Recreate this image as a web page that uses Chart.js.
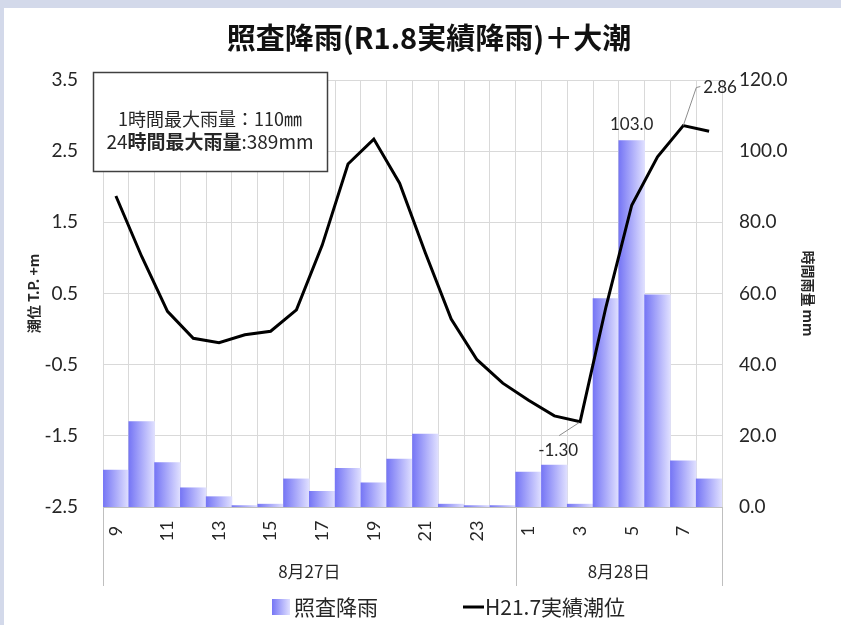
<!DOCTYPE html>
<html>
<head>
<meta charset="utf-8">
<script src="https://cdn.jsdelivr.net/npm/chart.js@4.4.1/dist/chart.umd.min.js"></script>
<style>
  html, body { margin: 0; padding: 0; background: #d3d9ea; }
  #wrap { position: absolute; left: 4px; top: 8px; width: 837px; height: 617px; background: #fff; }
</style>
</head>
<body>
<div id="wrap"><canvas id="myChart" width="837" height="617"></canvas></div>
<script>
// categories (hour of day), two days
let hours = ["9", "10", "11", "12", "13", "14", "15", "16", "17", "18", "19", "20", "21", "22", "23", "24",
    "1", "2", "3", "4", "5", "6", "7", "8"];
let dayLabels = ["8月27日", "8月28日"];
let daySizes = [16, 8]; // number of hours in each day group
// hourly rain mm (right axis)
let rain = [10.4, 24.0, 12.5, 5.4, 2.9, 0.4, 0.8, 7.9, 4.4, 10.9, 6.8, 13.5, 20.5, 0.8, 0.4, 0.4,
    9.8, 11.8, 0.8, 58.6, 103.0, 59.6, 13.0, 7.9];
// tide level T.P. m (left axis)
let tide = [1.87, 1.02, 0.25, -0.13, -0.19, -0.08, -0.03, 0.27, 1.18, 2.32, 2.67, 2.05, 1.07, 0.14, -0.43, -0.76,
    -1.0, -1.22, -1.30, 0.31, 1.74, 2.42, 2.86, 2.78];
let tideTicks = [-2.5, -1.5, -0.5, 0.5, 1.5, 2.5, 3.5];
let rainTicks = [0, 20, 40, 60, 80, 100, 120];

const JP = '"Noto Sans CJK JP", sans-serif';
const NUM = 'Lato, "Noto Sans CJK JP", sans-serif';
const TXT = "#262626";

// horizontal gradient for every bar
function barFill(c) {
    let chart = c.chart;
    let x = chart.scales.x;
    if (c.dataIndex === undefined || !x || !chart.chartArea) return "#9c9cfb";
    let half = x.width / hours.length / 2;
    let cx = x.getPixelForValue(c.dataIndex);
    let g = chart.ctx.createLinearGradient(cx - half, 0, cx + half, 0);
    g.addColorStop(0, "#7676f5");
    g.addColorStop(1, "#e0e0ff");
    return g;
}

// title, hour labels, day groups, legend, notes
const extras = {
    id: "extras",
    afterDraw(chart) {
        const ctx = chart.ctx;
        const area = chart.chartArea;
        const xs = chart.scales.x;
        ctx.save();

        // title
        ctx.fillStyle = "#111";
        ctx.font = "bold 29px " + JP;
        ctx.textAlign = "center";
        ctx.textBaseline = "middle";
        ctx.fillText("照査降雨(R1.8実績降雨)＋大潮", 425, 30);

        // hour labels, every other one, rotated
        ctx.fillStyle = TXT;
        ctx.font = "18px " + NUM;
        hours.forEach(function (h, i) {
            if (i % 2 !== 0) return;
            ctx.save();
            ctx.translate(xs.getPixelForValue(i), area.bottom + 24);
            ctx.rotate(-Math.PI / 2);
            ctx.textAlign = "center";
            ctx.textBaseline = "middle";
            ctx.fillText(h, 0, 0);
            ctx.restore();
        });

        // day group separators + labels
        ctx.strokeStyle = "#bfbfbf";
        ctx.lineWidth = 1;
        let start = 0;
        let edges = [area.left];
        daySizes.forEach(function (n) {
            start += n;
            let e = start >= hours.length ? area.right
                : (xs.getPixelForValue(start - 1) + xs.getPixelForValue(start)) / 2;
            edges.push(e);
        });
        edges.forEach(function (e) {
            ctx.beginPath();
            ctx.moveTo(Math.round(e) + 0.5, area.bottom);
            ctx.lineTo(Math.round(e) + 0.5, area.bottom + 79);
            ctx.stroke();
        });
        ctx.font = "17px " + JP;
        ctx.textAlign = "center";
        dayLabels.forEach(function (d, i) {
            ctx.fillText(d, (edges[i] + edges[i + 1]) / 2, area.bottom + 65);
        });

        // axis titles
        ctx.font = "bold 14px " + JP;
        ctx.save();
        ctx.translate(30, (area.top + area.bottom) / 2);
        ctx.rotate(-Math.PI / 2);
        ctx.fillText("潮位 T.P. +m", 0, 0);
        ctx.restore();
        ctx.save();
        ctx.translate(804, (area.top + area.bottom) / 2);
        ctx.rotate(Math.PI / 2);
        ctx.fillText("時間雨量 mm", 0, 0);
        ctx.restore();

        // legend
        let ly = 599;
        let g = ctx.createLinearGradient(268, 0, 286, 0);
        g.addColorStop(0, "#7676f5");
        g.addColorStop(1, "#e0e0ff");
        ctx.fillStyle = g;
        ctx.fillRect(268, ly - 8, 18, 16);
        ctx.fillStyle = TXT;
        ctx.font = "21px " + JP;
        ctx.textAlign = "left";
        ctx.fillText("照査降雨", 290, ly);
        ctx.strokeStyle = "#000";
        ctx.lineWidth = 3;
        ctx.beginPath();
        ctx.moveTo(459, ly);
        ctx.lineTo(480, ly);
        ctx.stroke();
        ctx.fillText("H21.7実績潮位", 481, ly);

        // note box
        ctx.fillStyle = "#fff";
        ctx.fillRect(89, 64, 234, 99);
        ctx.strokeStyle = "#404040";
        ctx.lineWidth = 1.5;
        ctx.strokeRect(89.5, 64.5, 234, 99);
        ctx.fillStyle = TXT;
        ctx.textAlign = "center";
        ctx.font = "18px " + JP;
        ctx.fillText("1時間最大雨量：110㎜", 206, 111);
        // second line: kanji part bold
        let p1 = "24", p2 = "時間最大雨量", p3 = ":389mm";
        ctx.font = "19px " + JP;
        let w1 = ctx.measureText(p1).width, w3 = ctx.measureText(p3).width;
        ctx.font = "bold 19px " + JP;
        let w2 = ctx.measureText(p2).width;
        let x0 = 206 - (w1 + w2 + w3) / 2;
        ctx.textAlign = "left";
        ctx.font = "19px " + JP;
        ctx.fillText(p1, x0, 134);
        ctx.font = "bold 19px " + JP;
        ctx.fillText(p2, x0 + w1, 134);
        ctx.font = "19px " + JP;
        ctx.fillText(p3, x0 + w1 + w2, 134);

        // data labels
        let lineMeta = chart.getDatasetMeta(0);
        let barMeta = chart.getDatasetMeta(1);
        ctx.font = "17px " + NUM;
        ctx.fillStyle = TXT;
        let iMaxRain = rain.indexOf(Math.max(...rain));
        let b = barMeta.data[iMaxRain];
        ctx.textAlign = "center";
        ctx.fillText(rain[iMaxRain].toFixed(1), b.x, b.y - 16);

        let iMin = tide.indexOf(Math.min(...tide));
        let pMin = lineMeta.data[iMin];
        ctx.strokeStyle = "#8c8c8c";
        ctx.lineWidth = 1;
        ctx.beginPath();
        ctx.moveTo(pMin.x - 1, pMin.y + 1);
        ctx.lineTo(pMin.x - 21, pMin.y + 14);
        ctx.stroke();
        ctx.fillText(tide[iMin].toFixed(2), pMin.x - 22, pMin.y + 29);

        let iMax = tide.indexOf(Math.max(...tide));
        let pMax = lineMeta.data[iMax];
        ctx.beginPath();
        ctx.moveTo(pMax.x, pMax.y);
        ctx.lineTo(pMax.x + 13, pMax.y - 38);
        ctx.lineTo(pMax.x + 17, pMax.y - 39);
        ctx.stroke();
        ctx.textAlign = "left";
        ctx.fillText(tide[iMax].toFixed(2), pMax.x + 20, pMax.y - 38);

        ctx.restore();
    },
};

const data = {
    labels: hours,
    datasets: [
        {
            type: "line",
            label: "H21.7実績潮位",
            data: tide,
            yAxisID: "y",
            borderColor: "#000",
            borderWidth: 3,
            pointRadius: 0,
            tension: 0,
            order: 0,
        },
        {
            type: "bar",
            label: "照査降雨",
            data: rain,
            yAxisID: "y1",
            backgroundColor: barFill,
            borderWidth: 0,
            barPercentage: 1,
            categoryPercentage: 1,
            order: 1,
        },
    ],
};

const config = {
    data: data,
    options: {
        responsive: false,
        animation: false,
        layout: { padding: { top: 72, left: 0, right: 0, bottom: 0 } },
        plugins: {
            legend: { display: false },
            title: { display: false },
            tooltip: { enabled: false },
        },
        scales: {
            x: {
                type: "category",
                offset: true,
                grid: { color: "#d9d9d9", offset: true, drawTicks: false },
                border: { color: "#bfbfbf" },
                ticks: { display: false },
                afterFit: function (s) { s.height = 118; },
            },
            y: {
                position: "left",
                min: tideTicks[0],
                max: tideTicks[tideTicks.length - 1],
                afterBuildTicks: function (s) { s.ticks = tideTicks.map((v) => ({ value: v })); },
                grid: { color: "#d9d9d9", drawTicks: false },
                border: { display: false },
                ticks: {
                    padding: 25,
                    color: TXT,
                    font: { family: NUM, size: 19 },
                    callback: (v) => Number(v).toFixed(1),
                },
                afterFit: function (s) { s.width = 99; },
            },
            y1: {
                position: "right",
                min: rainTicks[0],
                max: rainTicks[rainTicks.length - 1],
                afterBuildTicks: function (s) { s.ticks = rainTicks.map((v) => ({ value: v })); },
                grid: { display: false, drawTicks: false },
                border: { display: false },
                ticks: {
                    padding: 17,
                    color: TXT,
                    font: { family: NUM, size: 19 },
                    callback: (v) => Number(v).toFixed(1),
                },
                afterFit: function (s) { s.width = 119; },
            },
        },
    },
    plugins: [extras],
};

const myChart = new Chart(document.getElementById("myChart"), config);
</script>
</body>
</html>
